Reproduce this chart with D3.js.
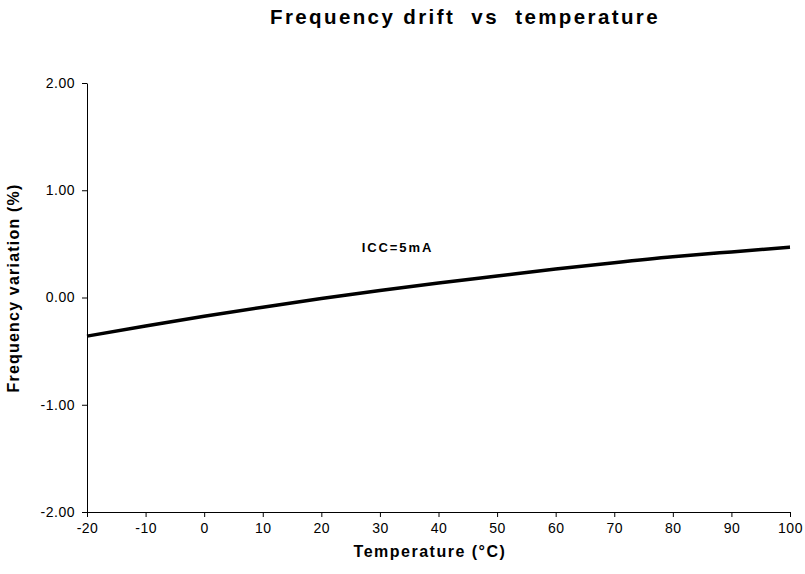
<!DOCTYPE html>
<html>
<head>
<meta charset="utf-8">
<script src="https://cdn.jsdelivr.net/npm/d3@7"></script>
<style>
  body { margin: 0; background: #fff; }
  text { font-family: "Liberation Sans", Arial, sans-serif; fill: #000; }
</style>
</head>
<body>
<div id="chart"></div>
<script>
// temperature (°C) and frequency variation (%)
var temps = [-20, -10, 0, 10, 20, 30, 40, 50, 60, 70, 80, 90, 100];
var drift = [-0.36, -0.265, -0.175, -0.09, -0.01, 0.065, 0.135, 0.2, 0.265, 0.325, 0.38, 0.425, 0.47];
var xTicks = [-20, -10, 0, 10, 20, 30, 40, 50, 60, 70, 80, 90, 100];
var yTicks = [-2, -1, 0, 1, 2];
var seriesLabel = "ICC=5mA";

function init ()
{
    var w = 805;
    var h = 574;
    var margin = {top: 83, right: 15, bottom: 62, left: 87};

    var svg = d3.select("#chart")
        .append("svg")
        .attr("width", w)
        .attr("height", h);

    var x = d3.scaleLinear()
        .domain([-20, 100])
        .range([margin.left, w - margin.right]);

    var y = d3.scaleLinear()
        .domain([-2, 2])
        .range([h - margin.bottom, margin.top]);

    // plain hyphen for negatives, like the original
    var fmtY = function (d) { return d.toFixed(2); };
    var fmtX = function (d) { return String(d); };

    svg.append("g")
        .attr("transform", "translate(0," + y(-2) + ")")
        .call(d3.axisBottom(x).tickValues(xTicks).tickSize(5).tickPadding(6)
            .tickFormat(fmtX).tickSizeOuter(0));

    svg.append("g")
        .attr("transform", "translate(" + x(-20) + ",0)")
        .call(d3.axisLeft(y).tickValues(yTicks).tickSize(5).tickPadding(7)
            .tickFormat(fmtY).tickSizeOuter(0));

    svg.selectAll(".domain, .tick line").attr("stroke", "#000");
    svg.selectAll(".tick text")
        .style("font-size", "14px")
        .style("letter-spacing", "0.5px")
        .attr("fill", "#000");

    //the curve
    var pts = temps.map(function (t, i) { return [t, drift[i]]; });
    var line = d3.line()
        .x(function (d) { return x(d[0]); })
        .y(function (d) { return y(d[1]); })
        .curve(d3.curveNatural);

    svg.append("path")
        .datum(pts)
        .attr("d", line)
        .attr("fill", "none")
        .attr("stroke", "#000")
        .attr("stroke-width", 3.5);

    // series label
    svg.append("text")
        .attr("x", x(33))
        .attr("y", y(0.42))
        .attr("text-anchor", "middle")
        .style("font-size", "13px")
        .style("font-weight", "bold")
        .style("letter-spacing", "1.9px")
        .text(seriesLabel);

    // title
    svg.append("text")
        .attr("x", 465)
        .attr("y", 24)
        .attr("text-anchor", "middle")
        .style("font-size", "20.5px")
        .style("font-weight", "bold")
        .style("letter-spacing", "2.4px")
        .style("white-space", "pre")
        .text("Frequency drift  vs  temperature");

    // axis titles
    svg.append("text")
        .attr("x", 430)
        .attr("y", 557)
        .attr("text-anchor", "middle")
        .style("font-size", "16px")
        .style("font-weight", "bold")
        .style("letter-spacing", "1.5px")
        .text("Temperature (°C)");

    svg.append("text")
        .attr("transform", "translate(19,288) rotate(-90)")
        .attr("text-anchor", "middle")
        .style("font-size", "16px")
        .style("font-weight", "bold")
        .style("letter-spacing", "1.2px")
        .text("Frequency variation (%)");
}

window.onload = init;
</script>
</body>
</html>
